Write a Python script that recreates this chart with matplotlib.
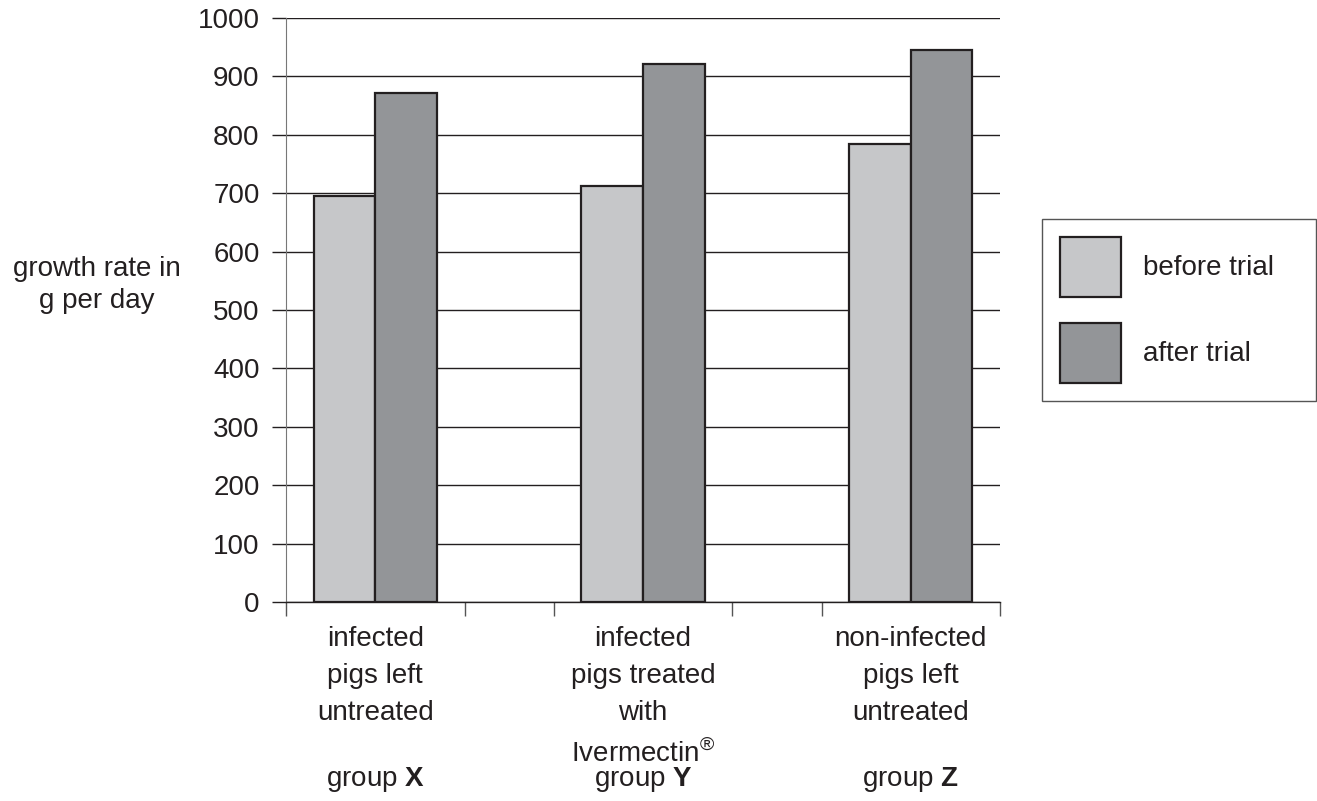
import matplotlib
matplotlib.use('Agg')
import matplotlib.pyplot as plt
from matplotlib.patches import Patch
from matplotlib.transforms import blended_transform_factory

# Dane
GROUPS = ['infected\npigs left\nuntreated',
          'infected\npigs treated\nwith\nIvermectin$^{\\circledR}$',
          'non-infected\npigs left\nuntreated']
GROUP_NAMES = ['group $\\mathbf{X}$', 'group $\\mathbf{Y}$', 'group $\\mathbf{Z}$']
BEFORE = [695, 712, 785]
AFTER = [871, 921, 946]
SERIES_LABELS = ['before trial', 'after trial']

plt.rcParams['font.family'] = ['Liberation Sans', 'DejaVu Sans']
plt.rcParams['mathtext.fontset'] = 'custom'
plt.rcParams['mathtext.rm'] = 'Liberation Sans'
plt.rcParams['mathtext.bf'] = 'Liberation Sans:bold'

FS = 20
W, H = 1317, 801
fig = plt.figure(figsize=(W / 100, H / 100), dpi=100)
ax = fig.add_axes([286 / W, (H - 602) / H, 714 / W, 584 / H])

centers = [1, 4, 7]
bw = 0.69
light, dark = '#c6c7c9', '#939598'
ax.bar([c - bw / 2 for c in centers], BEFORE, width=bw, color=light,
       edgecolor='#231f20', linewidth=1.6, zorder=3)
ax.bar([c + bw / 2 for c in centers], AFTER, width=bw, color=dark,
       edgecolor='#231f20', linewidth=1.6, zorder=3)

ax.set_xlim(0, 8)
ax.set_ylim(0, 1000)
ax.set_yticks(range(0, 1001, 100))
ax.yaxis.grid(True, color='#231f20', linewidth=1.0, zorder=0)
ax.tick_params(axis='y', labelsize=FS, length=10, width=1, color='#231f20',
               pad=9, labelcolor='#231f20')
ax.set_xticks([0, 2, 3, 5, 6, 8])
ax.set_xticklabels([])
ax.tick_params(axis='x', length=10, width=1, color='#555555')

for s in ['top', 'right']:
    ax.spines[s].set_visible(False)
ax.spines['left'].set_color('#777777')
ax.spines['bottom'].set_color('#231f20')
ax.spines['bottom'].set_linewidth(1.0)

trans = blended_transform_factory(ax.transData, fig.transFigure)
for c, txt, g in zip(centers, GROUPS, GROUP_NAMES):
    ax.text(c, 1 - 626 / H, txt, transform=trans, ha='center', va='top',
            fontsize=FS, linespacing=1.55, color='#231f20')
    ax.text(c, 1 - 780 / H, g, transform=trans, ha='center', va='center',
            fontsize=FS, color='#231f20')

fig.text(97 / W, 1 - 285 / H, 'growth rate in\ng per day', ha='center',
         va='center', fontsize=FS, linespacing=1.25, color='#231f20')

handles = [Patch(facecolor=light, edgecolor='#231f20', linewidth=1.6),
           Patch(facecolor=dark, edgecolor='#231f20', linewidth=1.6)]
leg = fig.legend(handles, SERIES_LABELS, loc='upper left',
                 bbox_to_anchor=(1042 / W, 1 - 397 / H, 274 / W, 178 / H),
                 mode='expand', fontsize=FS,
                 handlelength=2.2, handleheight=2.95, handletextpad=0.8,
                 labelspacing=0.94, borderpad=0.65, borderaxespad=0,
                 fancybox=False, framealpha=1, edgecolor='#555555')
leg.get_frame().set_linewidth(1.0)
for t in leg.get_texts():
    t.set_color('#231f20')

fig.savefig('out.png', dpi=100)
